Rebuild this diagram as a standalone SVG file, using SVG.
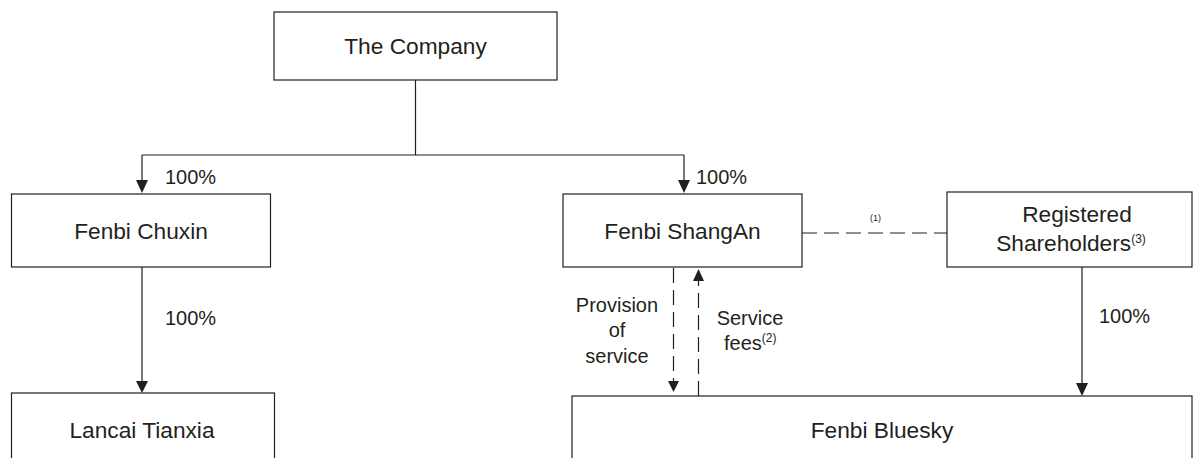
<svg xmlns="http://www.w3.org/2000/svg" width="1195" height="458" viewBox="0 0 1195 458">
<defs>
<style>
.box{fill:#fff;stroke:#231f20;stroke-width:1.2}
.ln{fill:none;stroke:#231f20;stroke-width:1.2}
.dash{fill:none;stroke:#231f20;stroke-width:1.2;stroke-dasharray:15 7}
.t{font-family:"Liberation Sans",Arial,sans-serif;font-size:22.7px;fill:#231f20;text-anchor:middle}
.p{font-family:"Liberation Sans",Arial,sans-serif;font-size:20px;fill:#231f20}
.s{font-family:"Liberation Sans",Arial,sans-serif;font-size:12px;fill:#231f20}
.head{fill:#231f20}
</style>
</defs>
<rect width="1195" height="458" fill="#fff"/>
<g id="connectors">
<path class="ln" d="M415.5,80 V155 M142,155 H684"/>
<line class="ln" x1="142" y1="155" x2="142" y2="180"/>
<path class="head" d="M136,180 L148,180 L142,193 Z"/>
<line class="ln" x1="684" y1="155" x2="684" y2="180"/>
<path class="head" d="M678,180 L690,180 L684,193 Z"/>
<line class="ln" x1="142" y1="267" x2="142" y2="381"/>
<path class="head" d="M136,381 L148,381 L142,393 Z"/>
<line class="ln" x1="1082" y1="267" x2="1082" y2="384"/>
<path class="head" d="M1076,383 L1088,383 L1082,396 Z"/>
<line class="dash" x1="802" y1="233" x2="947" y2="233"/>
<line class="dash" x1="673.5" y1="268" x2="673.5" y2="382"/>
<path class="head" d="M668,381 L679,381 L673.5,392 Z"/>
<line class="dash" x1="698.5" y1="396" x2="698.5" y2="280"/>
<path class="head" d="M693,281 L704,281 L698.5,269 Z"/>
</g>
<g id="labels">
<text class="p" x="165" y="184">100%</text>
<text class="p" x="696" y="184">100%</text>
<text class="p" x="165" y="325">100%</text>
<text class="p" x="1099" y="323">100%</text>
<text class="s" x="875.5" y="221" text-anchor="middle" style="font-size:9px">(1)</text>
<text class="p" x="617" y="312" text-anchor="middle">Provision</text>
<text class="p" x="617" y="337" text-anchor="middle">of</text>
<text class="p" x="617" y="363" text-anchor="middle">service</text>
<text class="p" x="750" y="325" text-anchor="middle">Service</text>
<text class="p" x="724" y="350">fees<tspan class="s" dy="-8">(2)</tspan></text>
</g>
<g id="company"><rect class="box" x="274" y="12" width="283" height="68"/><text class="t" x="415.5" y="54">The Company</text></g>
<g id="chuxin"><rect class="box" x="11.5" y="194" width="259" height="73"/><text class="t" x="141" y="239">Fenbi Chuxin</text></g>
<g id="shangan"><rect class="box" x="563" y="194" width="239" height="73"/><text class="t" x="682.5" y="239">Fenbi ShangAn</text></g>
<g id="shareholders"><rect class="box" x="947" y="192" width="245" height="75"/><text class="t" x="1077" y="222">Registered</text><text class="t" x="1071" y="251">Shareholders<tspan class="s" dy="-8">(3)</tspan></text></g>
<g id="lancai"><rect class="box" x="11.5" y="393" width="263" height="80"/><text class="t" x="142" y="438">Lancai Tianxia</text></g>
<g id="bluesky"><rect class="box" x="572" y="396" width="620" height="80"/><text class="t" x="882" y="438">Fenbi Bluesky</text></g>
</svg>
